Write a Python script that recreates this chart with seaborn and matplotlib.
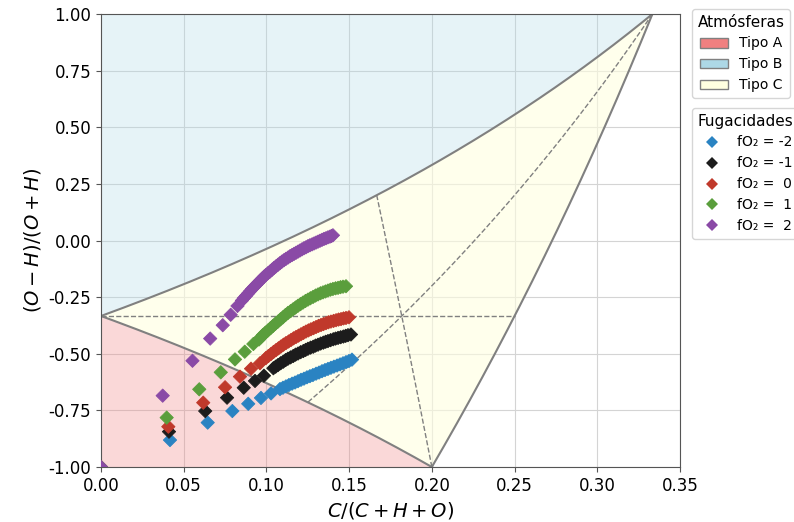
import numpy as np
import pandas as pd
import matplotlib
matplotlib.use("Agg")
import matplotlib.pyplot as plt
import matplotlib.ticker as mticker
import seaborn as sns
from matplotlib.patches import Patch
from matplotlib.lines import Line2D

# ---------------------------------------------------------------------------
# Trayectorias de composición para cada fugacidad de oxígeno
# ---------------------------------------------------------------------------
fo2_labels = ["fO\u2082 = -2", "fO\u2082 = -1", "fO\u2082 =  0", "fO\u2082 =  1", "fO\u2082 =  2"]
fo2_colors = ["#2a83c2", "#1c1c1c", "#c0392b", "#5a9e3c", "#8a4aa6"]

x_m2 = [0.0, 0.0417, 0.0645, 0.0794, 0.0890, 0.0967, 0.1028,
        0.1082, 0.1100, 0.1118, 0.1136, 0.1155, 0.1173, 0.1191, 0.1209,
        0.1227, 0.1245, 0.1263, 0.1281, 0.1300, 0.1318, 0.1336, 0.1354,
        0.1372, 0.1390, 0.1408, 0.1427, 0.1445, 0.1463, 0.1481, 0.1499, 0.1517]
y_m2 = [-1.0, -0.881, -0.804, -0.753, -0.721, -0.695, -0.675,
        -0.656, -0.650, -0.644, -0.638, -0.632, -0.627, -0.621, -0.615,
        -0.610, -0.604, -0.599, -0.594, -0.588, -0.583, -0.577, -0.572,
        -0.567, -0.562, -0.557, -0.552, -0.547, -0.542, -0.537, -0.532, -0.526]

x_m1 = [0.0, 0.0411, 0.0630, 0.0762, 0.0863, 0.0931, 0.0985,
        0.1042, 0.1056, 0.1070, 0.1086, 0.1102, 0.1116, 0.1130, 0.1146,
        0.1162, 0.1176, 0.1191, 0.1207, 0.1223, 0.1237, 0.1251, 0.1267,
        0.1283, 0.1297, 0.1312, 0.1328, 0.1344, 0.1358, 0.1372, 0.1388,
        0.1404, 0.1418, 0.1433, 0.1449, 0.1465, 0.1479, 0.1493, 0.1511]
y_m1 = [-1.0, -0.844, -0.753, -0.694, -0.650, -0.620, -0.597,
        -0.564, -0.557, -0.550, -0.542, -0.535, -0.528, -0.522, -0.516,
        -0.510, -0.504, -0.499, -0.493, -0.488, -0.483, -0.478, -0.473,
        -0.469, -0.464, -0.460, -0.455, -0.451, -0.447, -0.444, -0.440,
        -0.436, -0.433, -0.430, -0.427, -0.424, -0.421, -0.418, -0.415]

x_0 = [0.0, 0.0407, 0.0618, 0.0750, 0.0840, 0.0907, 0.0961,
       0.0997, 0.1012, 0.1028, 0.1043, 0.1058, 0.1073, 0.1088, 0.1103,
       0.1118, 0.1134, 0.1149, 0.1164, 0.1179, 0.1194, 0.1209, 0.1224,
       0.1239, 0.1254, 0.1269, 0.1285, 0.1300, 0.1315, 0.1330, 0.1345,
       0.1360, 0.1375, 0.1390, 0.1406, 0.1421, 0.1436, 0.1451, 0.1466,
       0.1481, 0.1499]
y_0 = [-1.0, -0.822, -0.716, -0.648, -0.601, -0.566, -0.542,
       -0.519, -0.510, -0.501, -0.492, -0.484, -0.476, -0.468, -0.460,
       -0.453, -0.446, -0.439, -0.432, -0.426, -0.420, -0.414, -0.408,
       -0.402, -0.397, -0.392, -0.387, -0.382, -0.377, -0.373, -0.369,
       -0.365, -0.361, -0.358, -0.355, -0.352, -0.349, -0.347, -0.344,
       -0.342, -0.339]

x_p1 = [0.0, 0.0397, 0.0594, 0.0724, 0.0810, 0.0869, 0.0921,
        0.0955, 0.0967, 0.0979, 0.0994, 0.1010, 0.1025, 0.1040, 0.1055,
        0.1070, 0.1085, 0.1100, 0.1115, 0.1130, 0.1146, 0.1161, 0.1176,
        0.1191, 0.1206, 0.1221, 0.1236, 0.1251, 0.1266, 0.1282, 0.1297,
        0.1312, 0.1327, 0.1342, 0.1357, 0.1372, 0.1387, 0.1402, 0.1418,
        0.1433, 0.1448, 0.1463, 0.1481]
y_p1 = [-1.0, -0.782, -0.657, -0.582, -0.525, -0.491, -0.457,
        -0.437, -0.427, -0.417, -0.407, -0.397, -0.387, -0.377, -0.367,
        -0.358, -0.348, -0.339, -0.329, -0.320, -0.312, -0.304, -0.296,
        -0.288, -0.281, -0.274, -0.267, -0.261, -0.255, -0.249, -0.243,
        -0.238, -0.233, -0.229, -0.225, -0.221, -0.217, -0.214, -0.211,
        -0.209, -0.206, -0.204, -0.202]

x_p2 = [0.0, 0.0373, 0.0553, 0.0660, 0.0736, 0.0784, 0.0825,
        0.0852, 0.0864, 0.0877, 0.0889, 0.0901, 0.0913, 0.0925, 0.0937,
        0.0949, 0.0961, 0.0973, 0.0985, 0.0997, 0.1010, 0.1022, 0.1034,
        0.1046, 0.1058, 0.1070, 0.1082, 0.1094, 0.1106, 0.1118, 0.1131,
        0.1143, 0.1155, 0.1167, 0.1179, 0.1191, 0.1203, 0.1215, 0.1227,
        0.1239, 0.1251, 0.1263, 0.1276, 0.1288, 0.1300, 0.1312, 0.1324,
        0.1336, 0.1348, 0.1360, 0.1372, 0.1384, 0.1393, 0.1402]
y_p2 = [-1.0, -0.685, -0.531, -0.433, -0.374, -0.328, -0.289,
        -0.265, -0.254, -0.244, -0.234, -0.224, -0.214, -0.205, -0.196,
        -0.187, -0.178, -0.169, -0.160, -0.152, -0.144, -0.137, -0.129,
        -0.121, -0.114, -0.107, -0.100, -0.093, -0.087, -0.081, -0.075,
        -0.069, -0.064, -0.059, -0.054, -0.049, -0.044, -0.039, -0.034,
        -0.030, -0.025, -0.021, -0.017, -0.013, -0.009, -0.005, -0.001,
        0.003, 0.007, 0.010, 0.014, 0.017, 0.020, 0.023]

series_x = [x_m2, x_m1, x_0, x_p1, x_p2]
series_y = [y_m2, y_m1, y_0, y_p1, y_p2]

frames = []
for lab, xs, ys in zip(fo2_labels, series_x, series_y):
    frames.append(pd.DataFrame({"x": xs, "y": ys, "fO2": lab}))
df = pd.concat(frames, ignore_index=True)

# ---------------------------------------------------------------------------
# Geometría del diagrama C-H-O
# ---------------------------------------------------------------------------
H2O = np.array([0.0, 2.0, 1.0])   # (C, H, O)
CO2 = np.array([1.0, 0.0, 2.0])
CH4 = np.array([1.0, 4.0, 0.0])


def to_xy(comp):
    c, h, o = comp.T
    return c / (c + h + o), (o - h) / (o + h)


def mix(a, b, n=300):
    t = np.linspace(0.0, 1.0, n)[:, None]
    return to_xy((1 - t) * a + t * b)


xu, yu = mix(H2O, CO2)      # H2O - CO2
xr, yr = mix(CO2, CH4)      # CO2 - CH4
xl, yl = mix(CH4, H2O)      # CH4 - H2O

# ---------------------------------------------------------------------------
# Figura
# ---------------------------------------------------------------------------
plt.rcParams["font.family"] = ["DejaVu Sans"]
fig = plt.figure(figsize=(7.94, 5.22), dpi=100)
ax = fig.add_axes([101 / 794, 1 - 467 / 522, 579 / 794, 453 / 522])

ax.grid(True, color="#d4d4d4", linewidth=0.8)
ax.set_axisbelow(True)

# Regiones de atmósferas
ax.fill(np.r_[xu, 0.0], np.r_[yu, 1.0], color="lightblue", alpha=0.3, lw=0, zorder=1)
ax.fill(np.r_[xl, 0.0], np.r_[yl, -1.0], color="lightcoral", alpha=0.3, lw=0, zorder=1)
ax.fill(np.r_[xu, xr, xl], np.r_[yu, yr, yl], color="lightyellow", alpha=0.6, lw=0, zorder=1)

for xx, yy in [(xu, yu), (xr, yr), (xl, yl)]:
    ax.plot(xx, yy, color="gray", lw=1.5, zorder=2)

# Medianas del triángulo H2O-CO2-CH4
for v, a, b in [(H2O, CO2, CH4), (CH4, H2O, CO2), (CO2, H2O, CH4)]:
    mx, my = mix(v, a + b)
    ax.plot(mx, my, color="gray", lw=1.0, ls="--", zorder=2)

sns.scatterplot(data=df, x="x", y="y", hue="fO2", hue_order=fo2_labels,
                palette=fo2_colors, marker="D", s=46, linewidth=0.6,
                edgecolor="face", legend=False, ax=ax, zorder=3)

ax.set_xlim(0.0, 0.35)
ax.set_ylim(-1.0, 1.0)
ax.set_xticks(np.arange(0.0, 0.351, 0.05))
ax.set_yticks(np.arange(-1.0, 1.001, 0.25))
ax.xaxis.set_major_formatter(mticker.FormatStrFormatter("%.2f"))
ax.yaxis.set_major_formatter(mticker.FormatStrFormatter("%.2f"))
ax.tick_params(labelsize=12, color="#555555")
for sp in ax.spines.values():
    sp.set_color("#555555")
ax.set_xlabel("$C/(C+H+O)$", fontsize=14)
ax.set_ylabel("$(O-H)/(O+H)$", fontsize=14)

atm_handles = [
    Patch(facecolor="lightcoral", edgecolor="gray", label="Tipo A"),
    Patch(facecolor="lightblue", edgecolor="gray", label="Tipo B"),
    Patch(facecolor="lightyellow", edgecolor="gray", label="Tipo C"),
]
leg1 = fig.legend(handles=atm_handles, title="Atmósferas", loc="upper left",
                  bbox_to_anchor=(692 / 794, 1 - 9 / 522), borderaxespad=0,
                  fontsize=10, title_fontsize=11)

fug_handles = [Line2D([0], [0], marker="D", linestyle="None", markersize=6,
                      markerfacecolor=c, markeredgewidth=0, label=l)
               for c, l in zip(fo2_colors, fo2_labels)]
leg2 = fig.legend(handles=fug_handles, title="Fugacidades", loc="upper left",
                  bbox_to_anchor=(692 / 794, 1 - 108 / 522), borderaxespad=0,
                  fontsize=10, title_fontsize=11)

fig.savefig("out.png", dpi=100)
